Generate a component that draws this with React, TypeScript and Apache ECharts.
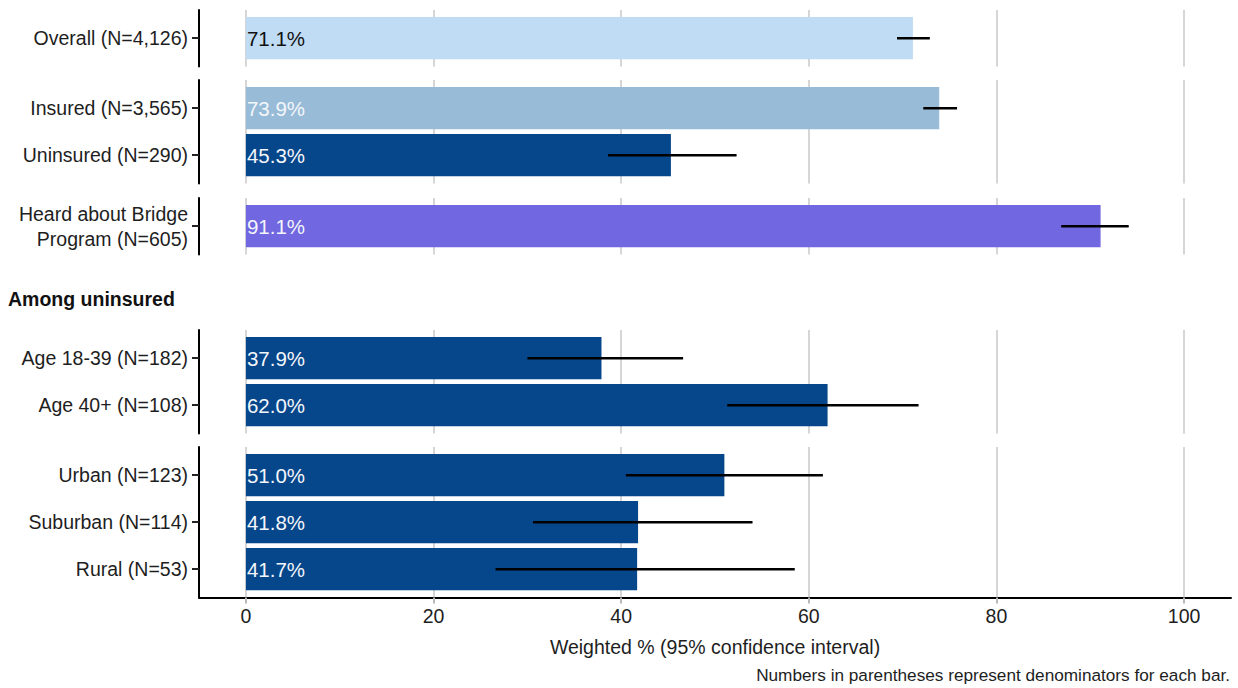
import React, { useEffect, useRef } from 'react';
import * as echarts from 'echarts';

// Rows, top to bottom
const categories = [
  'Overall (N=4,126)',
  'Insured (N=3,565)',
  'Uninsured (N=290)',
  'Heard about Bridge\nProgram (N=605)',
  'Age 18-39 (N=182)',
  'Age 40+ (N=108)',
  'Urban (N=123)',
  'Suburban (N=114)',
  'Rural (N=53)',
];
// Weighted percentage and its 95% confidence interval
const values = [71.1, 73.9, 45.3, 91.1, 37.9, 62.0, 51.0, 41.8, 41.7];
const ciLow = [69.4, 72.2, 38.6, 86.9, 30.0, 51.3, 40.5, 30.6, 26.6];
const ciHigh = [72.9, 75.8, 52.3, 94.1, 46.6, 71.7, 61.5, 54.0, 58.5];
// Number of rows in each facet panel
const panelSizes = [1, 2, 1, 2, 3];
const xTicks = [0, 20, 40, 60, 80, 100];

// Styles
const NAVY = '#06468a';
const BAR_FILL = ['#c0dcf5', '#98bbd7', NAVY, '#7167e0', NAVY, NAVY, NAVY, NAVY, NAVY];
const LABEL_FILL = ['#111111', '#f3f6fb', '#f3f6fb', '#f3f6fb', '#f3f6fb', '#f3f6fb', '#f3f6fb', '#f3f6fb', '#f3f6fb'];
const FONT = '"Liberation Sans", Arial, sans-serif';
const TEXT = '#1e1e1e';
const GRID_COLOR = '#d6d6d6';

// Layout
const UNIT = 47; // pixels per row
const PANEL_TOPS = [10, 80, 198, 330, 447];
const GRID_LEFT = 199;
const GRID_RIGHT = 7;

function buildOption() {
  const grids: any[] = [];
  const xAxes: any[] = [];
  const yAxes: any[] = [];
  const series: any[] = [];
  let start = 0;
  const last = panelSizes.length - 1;

  panelSizes.forEach((n, p) => {
    const offset = start;
    const rows = Array.from({ length: n }, (_, k) => offset + k);
    const localTicks = rows.map((_, k) => k + 1);
    const isLast = p === last;

    grids.push({
      left: GRID_LEFT,
      right: GRID_RIGHT,
      top: PANEL_TOPS[p],
      height: (n + 0.2) * UNIT,
      containLabel: false,
    });

    xAxes.push({
      gridIndex: p,
      type: 'value',
      min: -5,
      max: 105,
      axisLine: { show: isLast, onZero: false, lineStyle: { color: '#000', width: 2 } },
      axisTick: {
        show: isLast,
        customValues: xTicks,
        length: 6,
        lineStyle: { color: '#b8b8b8', width: 2 },
      },
      axisLabel: {
        show: isLast,
        customValues: xTicks,
        margin: 9,
        fontSize: 19.5,
        color: TEXT,
        fontFamily: FONT,
      },
      splitLine: { show: true, lineStyle: { color: GRID_COLOR, width: 2 } },
      name: isLast ? 'Weighted % (95% confidence interval)' : '',
      nameLocation: 'middle',
      nameGap: 40,
      nameTextStyle: { fontSize: 19.5, color: TEXT, fontFamily: FONT },
    });

    yAxes.push({
      gridIndex: p,
      type: 'value',
      inverse: true,
      min: 0.4,
      max: n + 0.6,
      axisLine: { show: true, onZero: false, lineStyle: { color: '#000', width: 2 } },
      axisTick: {
        show: true,
        customValues: localTicks,
        length: 7,
        lineStyle: { color: '#222', width: 2 },
      },
      axisLabel: {
        show: true,
        customValues: localTicks,
        margin: 11,
        fontSize: 19.5,
        lineHeight: 25,
        color: TEXT,
        fontFamily: FONT,
        align: 'right',
        formatter: (v: number) => categories[offset + Math.round(v) - 1] ?? '',
      },
      splitLine: { show: false },
    });

    // Bars with value labels
    series.push({
      type: 'custom',
      xAxisIndex: p,
      yAxisIndex: p,
      encode: { x: 0, y: 1 },
      data: rows.map((i, k) => [values[i], k + 1, i]),
      renderItem: (_params: any, api: any) => {
        const v = api.value(0);
        const pos = api.value(1);
        const idx = api.value(2);
        const a = api.coord([0, pos]);
        const b = api.coord([v, pos]);
        const h = api.size([0, 0.9])[1];
        return {
          type: 'group',
          children: [
            {
              type: 'rect',
              shape: { x: a[0], y: a[1] - h / 2, width: b[0] - a[0], height: h },
              style: { fill: BAR_FILL[idx] },
            },
            {
              type: 'text',
              x: a[0] + 1,
              y: a[1],
              style: {
                text: `${v.toFixed(1)}%`,
                fill: LABEL_FILL[idx],
                fontSize: 20.5,
                fontFamily: FONT,
                align: 'left',
                verticalAlign: 'middle',
              },
            },
          ],
        };
      },
    });

    // Confidence interval segments
    series.push({
      type: 'custom',
      xAxisIndex: p,
      yAxisIndex: p,
      encode: { x: [0, 1], y: 2 },
      data: rows.map((i, k) => [ciLow[i], ciHigh[i], k + 1]),
      renderItem: (_params: any, api: any) => {
        const pos = api.value(2);
        const a = api.coord([api.value(0), pos]);
        const b = api.coord([api.value(1), pos]);
        return {
          type: 'line',
          shape: { x1: a[0], y1: a[1], x2: b[0], y2: b[1] },
          style: { stroke: '#000', lineWidth: 2.4 },
        };
      },
    });

    start += n;
  });

  return {
    animation: false,
    backgroundColor: '#ffffff',
    textStyle: { fontFamily: FONT },
    grid: grids,
    xAxis: xAxes,
    yAxis: yAxes,
    series,
    graphic: [
      {
        type: 'text',
        left: 8,
        top: 289,
        style: {
          text: 'Among uninsured',
          fontSize: 19.5,
          fontWeight: 'bold',
          fontFamily: FONT,
          fill: '#111',
        },
      },
      {
        type: 'text',
        right: 8,
        top: 666,
        style: {
          text: 'Numbers in parentheses represent denominators for each bar.',
          fontSize: 17.2,
          fontFamily: FONT,
          fill: TEXT,
        },
      },
    ],
  };
}

export default function App() {
  const ref = useRef<HTMLDivElement>(null);

  useEffect(() => {
    if (!ref.current) return;
    const chart = echarts.init(ref.current, undefined, { renderer: 'svg' });
    chart.setOption(buildOption());
    return () => chart.dispose();
  }, []);

  return (
    <div
      ref={ref}
      style={{ position: 'fixed', left: 0, top: 0, width: 1238, height: 688, background: '#fff' }}
    />
  );
}
